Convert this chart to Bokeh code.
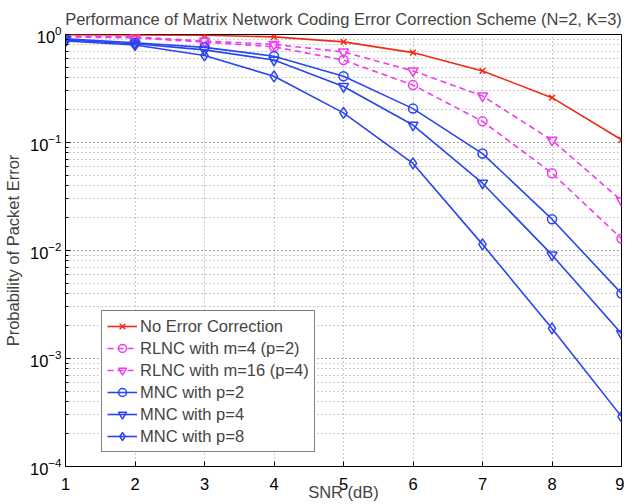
from bokeh.plotting import figure
from bokeh.models import Range1d, Legend, LegendItem, FixedTicker
from bokeh.embed import file_html
from bokeh.resources import INLINE

snr = [1, 2, 3, 4, 5, 6, 7, 8, 9]
no_ec = [0.995, 0.99, 0.985, 0.95, 0.855, 0.68, 0.46, 0.26, 0.106]
rlnc_m4 = [0.95, 0.93, 0.85, 0.77, 0.58, 0.34, 0.157, 0.052, 0.0129]
rlnc_m16 = [0.97, 0.95, 0.87, 0.81, 0.69, 0.46, 0.27, 0.105, 0.029]
mnc_p2 = [0.91, 0.84, 0.76, 0.63, 0.41, 0.206, 0.079, 0.0195, 0.004]
mnc_p4 = [0.89, 0.82, 0.72, 0.58, 0.33, 0.145, 0.042, 0.0091, 0.0017]
mnc_p8 = [0.87, 0.80, 0.64, 0.41, 0.188, 0.064, 0.0114, 0.0019, 0.00029]
labels = ["No Error Correction", "RLNC with m=4 (p=2)", "RLNC with m=16 (p=4)",
          "MNC with p=2", "MNC with p=4", "MNC with p=8"]

RED = "#f02a14"
MAG = "#f03cf0"
BLUE = "#2a44f0"
FONT = "Liberation Sans"
FS = "16.5px"

p = figure(width=624, frame_height=432, y_axis_type="log",
           x_range=Range1d(1, 9), y_range=Range1d(1e-4, 1),
           output_backend="svg", toolbar_location=None,
           min_border_left=55, min_border_right=3, min_border_top=0, min_border_bottom=0,
           title="Performance of Matrix Network Coding Error Correction Scheme (N=2, K=3)")
p.title.text_font = FONT
p.title.text_font_size = FS
p.title.text_font_style = "normal"
p.title.align = "center"
p.title.offset = 0
p.title.standoff = 14

p.outline_line_color = "black"
p.outline_line_width = 1

for ax in (p.xaxis[0], p.yaxis[0]):
    ax.major_tick_in = 5
    ax.major_tick_out = 0
    ax.minor_tick_out = 0
    ax.major_label_text_font = FONT
    ax.major_label_text_font_size = FS
    ax.axis_label_text_font = FONT
    ax.axis_label_text_font_size = FS
    ax.axis_label_text_font_style = "normal"
    ax.axis_line_color = "black"
    ax.major_label_text_color = "black"

p.xaxis.ticker = FixedTicker(ticks=snr)
p.xaxis.minor_tick_in = 0
p.xaxis.axis_label = "SNR (dB)"
p.xaxis.axis_label_standoff = -10
p.xaxis.major_label_standoff = 11
p.yaxis.axis_label = "Probability of Packet Error"
p.yaxis.minor_tick_in = 3
p.yaxis.major_label_standoff = 4
p.yaxis.axis_label_standoff = 5

p.xgrid.grid_line_color = "#999999"
p.xgrid.grid_line_dash = "1 3"
p.ygrid.grid_line_color = "#999999"
p.ygrid.grid_line_dash = "1 3"
p.ygrid.minor_grid_line_color = "#999999"
p.ygrid.minor_grid_line_dash = "1 3"

series = [
    (no_ec, RED, "solid", "x", 8),
    (rlnc_m4, MAG, "6 4", "circle", 9),
    (rlnc_m16, MAG, "6 4", "inverted_triangle", 10),
    (mnc_p2, BLUE, "solid", "circle", 9),
    (mnc_p4, BLUE, "solid", "inverted_triangle", 10),
    (mnc_p8, BLUE, "solid", "diamond", 11),
]
items = []
for (ys, col, dash, mk, sz), lab in zip(series, labels):
    l = p.line(snr, ys, line_color=col, line_width=1.6, line_dash=dash)
    s = p.scatter(snr, ys, marker=mk, size=sz, line_color=col, fill_color=None, line_width=1.5)
    items.append(LegendItem(label=lab, renderers=[l, s]))

leg = Legend(items=items, location=(36, 14))
leg.label_text_font = FONT
leg.label_text_font_size = FS
leg.glyph_width = 30
leg.glyph_height = 20
leg.label_height = 20
leg.spacing = 2
leg.padding = 5
leg.margin = 0
leg.label_standoff = 3
leg.border_line_color = "black"
leg.border_line_width = 1
leg.background_fill_alpha = 1
p.add_layout(leg, "center")

open("out.html", "w").write(file_html(p, INLINE))
